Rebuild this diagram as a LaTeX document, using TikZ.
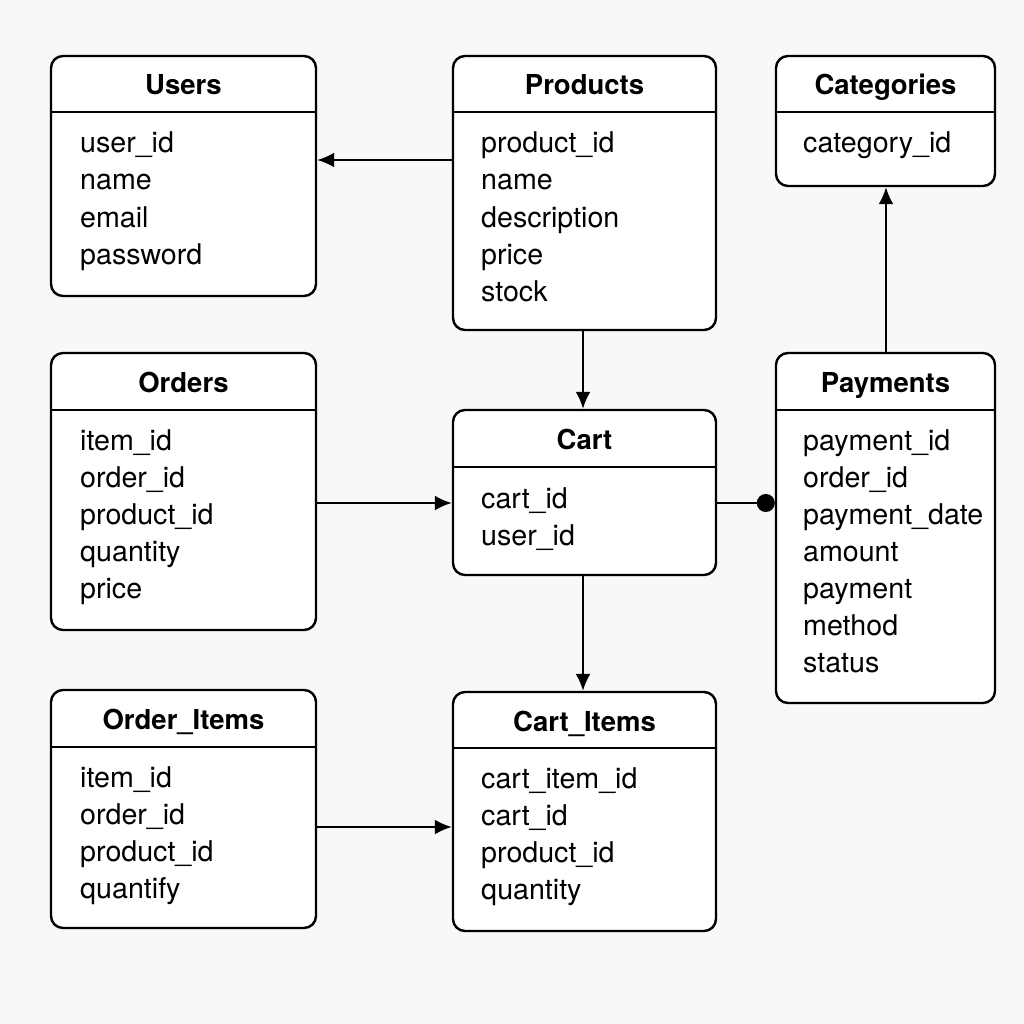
\documentclass[tikz,border=0pt]{standalone}
\usepackage{fontspec}
\setmainfont{TeX Gyre Heros}
\usetikzlibrary{arrows.meta}
\definecolor{bg}{RGB}{248,248,248}
\tikzset{
  tbl/.style={draw=black, fill=white, line width=2.4pt, rounded corners=12pt, inner sep=0pt},
  divline/.style={draw=black, line width=2.4pt},
  ttl/.style={font=\fontsize{27.5}{32}\selectfont\bfseries, anchor=base, inner sep=0pt},
  fld/.style={font=\fontsize{28.6}{34}\selectfont, anchor=base west, inner sep=0pt},
  conn/.style={draw=black, line width=2.2pt},
  arr/.style={conn, -{Latex[length=17pt,width=15pt]}},
  dotarr/.style={conn, -{Circle[length=18pt]}},
}
\newcommand\erbox[7]{% name, left, top, right, bottom, divider y, title
  \node[tbl, minimum width={(#4-#2)*1pt}, minimum height={(#5-#3)*1pt}] (#1) at ({(#2+#4)/2},{(#3+#5)/2}) {};
  \coordinate (#1-d) at (0,#6);
  \draw[divline] (#1.west |- #1-d) -- (#1.east |- #1-d);
  \node[ttl] (#1-t) at ({(#2+#4)/2},{#3+39}) {#7};
}
\begin{document}
\begin{tikzpicture}[x=1pt,y=-1pt]
\useasboundingbox[fill=bg] (0,0) rectangle (1024,1024);

\erbox{users}{51}{56}{316}{296}{112}{Users}
\erbox{prod}{453}{56}{716}{330}{112}{Products}
\erbox{cat}{776}{56}{995}{186}{112}{Categories}
\erbox{orders}{51}{353}{316}{630}{410}{Orders}
\erbox{cart}{453}{410}{716}{575}{467}{Cart}
\erbox{pay}{776}{353}{995}{703}{410}{Payments}
\erbox{oitems}{51}{690}{316}{928}{747}{Order\_Items}
\erbox{citems}{453}{692}{716}{931}{748}{Cart\_Items}

% fields
\foreach \t [count=\i from 0] in {user\_id,name,email,password}
  \node[fld] (users-f\i) at (80,{153+37*\i}) {\t};
\foreach \t [count=\i from 0] in {product\_id,name,description,price,stock}
  \node[fld] (prod-f\i) at (481,{153+37*\i}) {\t};
\node[fld] (cat-f0) at (803,153) {category\_id};
\foreach \t [count=\i from 0] in {item\_id,order\_id,product\_id,quantity,price}
  \node[fld] (orders-f\i) at (80,{450+37*\i}) {\t};
\foreach \t [count=\i from 0] in {cart\_id,user\_id}
  \node[fld] (cart-f\i) at (481,{508+37*\i}) {\t};
\foreach \t [count=\i from 0] in {payment\_id,order\_id,payment\_date,amount,payment,method,status}
  \node[fld] (pay-f\i) at (803,{450+37*\i}) {\t};
\foreach \t [count=\i from 0] in {item\_id,order\_id,product\_id,quantify}
  \node[fld] (oitems-f\i) at (80,{787+37*\i}) {\t};
\foreach \t [count=\i from 0] in {cart\_item\_id,cart\_id,product\_id,quantity}
  \node[fld] (citems-f\i) at (481,{788+37*\i}) {\t};

% connectors
\coordinate (r1) at (0,160);
\coordinate (r2) at (0,503);
\coordinate (r3) at (0,827);
\coordinate (c1) at (583,0);
\coordinate (c2) at (886,0);
\draw[arr] (prod.west |- r1) -- (users.east |- r1);
\draw[arr] (prod.south -| c1) -- (cart.north -| c1);
\draw[arr] (pay.north -| c2) -- (cat.south -| c2);
\draw[arr] (orders.east |- r2) -- (cart.west |- r2);
\draw[dotarr] (cart.east |- r2) -- (pay.west |- r2);
\draw[arr] (cart.south -| c1) -- (citems.north -| c1);
\draw[arr] (oitems.east |- r3) -- (citems.west |- r3);
\end{tikzpicture}
\end{document}
